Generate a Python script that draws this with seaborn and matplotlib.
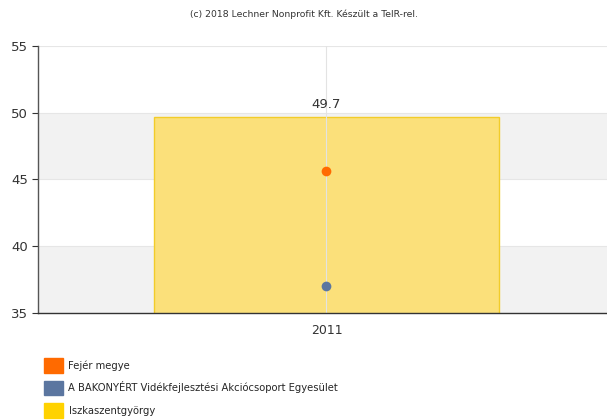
import matplotlib
matplotlib.use("Agg")
import matplotlib.pyplot as plt
import matplotlib.patches as mpatches
import seaborn as sns
import pandas as pd

years = ["2011"]
settlement_values = [49.7]          # Iszkaszentgyörgy (bar)
county_values = [45.6]              # Fejér megye (point)
group_values = [37.0]               # A BAKONYÉRT ... (point)
series_names = ["Fejér megye",
                "A BAKONYÉRT Vidékfejlesztési Akciócsoport Egyesület",
                "Iszkaszentgyörgy"]
yticks = [35, 40, 45, 50, 55]

c_orange = "#ff6a00"
c_blue = "#5b76a0"
c_yellow = "#ffd200"

sns.set_style("white")
plt.rcParams['font.family'] = ['DejaVu Sans']

fig = plt.figure(figsize=(6.07, 4.20), dpi=100)
ax = fig.add_axes([38/607, 1-313/420, (607-38)/607, (313-46)/420])

# background bands
for lo in (35, 45):
    ax.axhspan(lo, lo + 5, color="#f2f2f2", zorder=0, lw=0)
for y in yticks:
    ax.axhline(y, color="#e6e6e6", lw=0.8, zorder=0.5)

df_bar = pd.DataFrame({"year": years, "value": settlement_values})
sns.barplot(data=df_bar, x="year", y="value", ax=ax, color="#fbe07a",
            saturation=1, width=0.606, edgecolor="#f2cc2a", linewidth=1.0, zorder=2)
ax.axvline(0, color="#e3e3e3", lw=0.8, zorder=2.5)

df_c = pd.DataFrame({"year": years, "value": county_values})
df_g = pd.DataFrame({"year": years, "value": group_values})
sns.stripplot(data=df_c, x="year", y="value", ax=ax, jitter=False, color=c_orange,
              size=7, zorder=4)
sns.stripplot(data=df_g, x="year", y="value", ax=ax, jitter=False, color=c_blue,
              size=7, zorder=4)

for i, v in enumerate(settlement_values):
    ax.text(i, v + 0.45, f"{v}", ha="center", va="bottom", fontsize=9.5, color="#333333")

ax.set_xlim(-0.507, 0.493)
ax.set_ylim(35, 55)
ax.set_yticks(yticks)
ax.set_xlabel("")
ax.set_ylabel("")
ax.tick_params(axis="y", labelsize=9.5, colors="#333333", length=4, width=0.8, direction="out", left=True, pad=3)
ax.tick_params(axis="x", labelsize=9, colors="#333333", length=0, pad=8)
for s in ("top", "right"):
    ax.spines[s].set_visible(False)
ax.spines["left"].set_color("#555555")
ax.spines["bottom"].set_color("#333333")
ax.spines["left"].set_linewidth(1.0)
ax.spines["bottom"].set_linewidth(1.0)

fig.text(0.5, 1 - 14/420, "(c) 2018 Lechner Nonprofit Kft. Készült a TeIR-rel.",
         ha="center", va="center", fontsize=6.7, color="#333333")

handles = [mpatches.Patch(color=c) for c in (c_orange, c_blue, c_yellow)]
leg = fig.legend(handles, series_names, loc="upper left", bbox_to_anchor=(44/607, 1 - 358/420),
                 frameon=False, fontsize=7.2, handlelength=1.9, handleheight=1.9,
                 handletextpad=0.55, labelspacing=0.78, borderaxespad=0, borderpad=0)

fig.savefig("out.png", dpi=100)
